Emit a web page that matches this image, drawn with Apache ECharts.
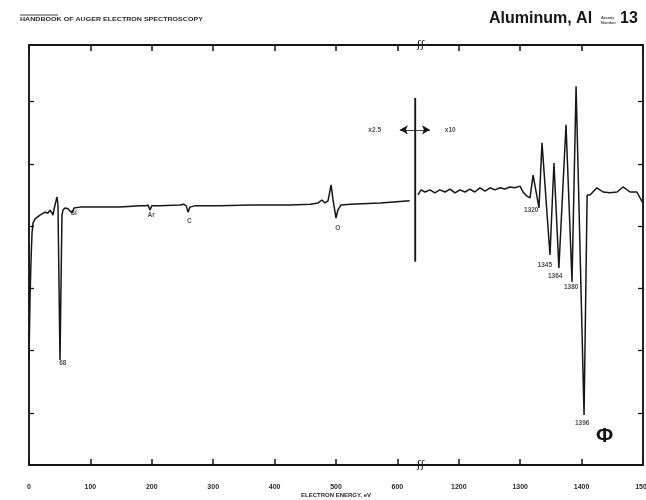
<!DOCTYPE html>
<html><head><meta charset="utf-8">
<script src="https://cdn.jsdelivr.net/npm/echarts@6/dist/echarts.min.js"></script>
<style>html,body{margin:0;padding:0;background:#fff}#c{width:646px;height:500px}</style>
</head><body><div id="c"></div>
<script>
// ---- axis break: energies between BREAK_AT and BREAK_AT+BREAK_SKIP are cut out
const BREAK_AT = 630;
const BREAK_SKIP = 500;
const xTickLabels = ['0','100','200','300','400','500','600','1200','1300','1400','1500'];
const yTickValues = [12.4, 27.3, 42.1, 56.9, 71.7, 86.7];

// ---- spectrum, low-energy part (x2.5)
const lowEnergy = [0,1.6,3.3,4.9,6.5,9.8,13,17.9,26,31,34.2,37.5,39,42.3,45.6,47.2,50.5,53.7,55.4,58.6,63.5,66.8,70,73.3,83,115.6,148,181,190.6,194,197,200,213,246,252,256,259,262,270,311,360,425,458,471,477,482,487,492,495,500,503,508,523,572,620];
const lowSignal = [25.0,39.3,48.8,55.2,57.6,58.6,59.0,59.5,60.2,60.0,60.7,60.0,59.5,61.9,63.8,61.9,25.0,59.5,60.7,61.2,61.0,60.5,60.0,61.2,61.4,61.4,61.4,61.7,61.7,61.9,60.7,61.7,61.7,61.9,62.1,61.7,60.2,61.4,61.7,61.7,61.9,61.9,62.1,62.4,63.1,62.4,62.9,66.7,63.3,58.8,60.7,61.9,62.1,62.4,62.9];

// ---- spectrum, high-energy part (x10)
const highEnergy = [1133.6,1138.4,1145,1153,1161,1169,1177.5,1185.7,1193.8,1202,1210,1218,1226,1234.5,1242.7,1250.8,1259,1267,1275,1283,1291.5,1299.7,1304.6,1311,1316,1321,1330.6,1335.5,1348.5,1355,1363,1374.6,1384.4,1391,1404,1409,1413.7,1425,1435,1446,1457.7,1467.4,1479,1490,1499];
const highSignal = [64.3,65.5,65.0,65.5,64.8,65.5,65.0,65.7,64.8,65.5,65.0,65.7,65.0,66.0,65.2,66.0,65.5,66.0,65.7,66.2,66.0,66.4,65.0,64.0,63.6,69.0,61.2,76.7,50.0,71.9,46.9,81.0,43.6,90.2,11.9,64.3,64.3,66.0,65.0,64.8,65.0,66.2,65.0,65.0,62.6];

// ---- gain-change marker
const gainLineEnergy = 629;
const gainLineSignal = [87.4, 48.4];
const gainArrowEnergy = [604, 1153];
const gainArrowSignal = 79.8;
const gainLabels = ['x2.5', 'x10'];
const gainLabelEnergy = [563, 1186];

// ---- peak labels
const peakLabels = ['Si','68','Ar','C','O','1320','1345','1364','1380','1396'];
const peakLabelEnergy = [73,55,199,261,503,1318,1340,1357,1383,1401];
const peakLabelSignal = [60.0,24.3,59.5,58.0,56.4,60.7,47.6,45.0,42.4,10.0];

function toAxis(e){ return e >= BREAK_AT + BREAK_SKIP ? e - BREAK_SKIP : e; }
function fromAxis(v){ return v > 600 ? v + BREAK_SKIP : v; }
function pairs(es, ys){ return es.map((e,i)=>[toAxis(e), ys[i]]); }

const chart = echarts.init(document.getElementById('c'));
const FONT = 'Liberation Sans';
const lineCol = '#161616';

const xAxisBase = {
  type:'value', min:0, max:1000, interval:100,
  axisLine:{show:true, onZero:false, lineStyle:{color:lineCol, width:1.9}},
  axisTick:{show:true, inside:true, length:6, lineStyle:{color:lineCol, width:1.5}},
  splitLine:{show:false}
};
const yAxisBase = {
  type:'value', min:0, max:100,
  axisLine:{show:true, onZero:false, lineStyle:{color:lineCol, width:1.9}},
  axisTick:{show:true, inside:true, length:5, customValues:yTickValues, lineStyle:{color:lineCol, width:1.3}},
  axisLabel:{show:false, customValues:yTickValues},
  splitLine:{show:false}
};

const labelData = peakLabels.map((t,i)=>({name:t, value:[toAxis(peakLabelEnergy[i]), peakLabelSignal[i]]}))
  .concat(gainLabels.map((t,i)=>({name:t, value:[toAxis(gainLabelEnergy[i]), gainArrowSignal]})));

const option = {
  animation:false,
  backgroundColor:'#fff',
  grid:{left:29, right:3, top:45, bottom:35, containLabel:false, outerBoundsMode:'none'},
  xAxis:[
    Object.assign({}, xAxisBase, {position:'bottom',
      axisLabel:{show:true, margin:19, fontSize:7, fontWeight:'bold', fontFamily:FONT, color:'#2a2a2a',
        formatter:(v)=>xTickLabels[Math.round(v/100)] || String(fromAxis(v))},
      name:'ELECTRON ENERGY, eV', nameLocation:'middle', nameGap:27, nameMoveOverlap:false,
      nameTextStyle:{fontSize:6, fontWeight:'bold', fontFamily:FONT, color:'#2a2a2a'}}),
    Object.assign({}, xAxisBase, {position:'top', axisLabel:{show:false}})
  ],
  yAxis:[
    Object.assign({}, yAxisBase, {position:'left'}),
    Object.assign({}, yAxisBase, {position:'right'})
  ],
  series:[
    {type:'line', data:pairs(lowEnergy, lowSignal), showSymbol:false, smooth:false,
     lineStyle:{color:lineCol, width:1.5}},
    {type:'line', data:pairs(highEnergy, highSignal), showSymbol:false, smooth:false,
     lineStyle:{color:lineCol, width:1.5}},
    {type:'line', data:gainLineSignal.map(y=>[toAxis(gainLineEnergy), y]), showSymbol:false,
     lineStyle:{color:lineCol, width:1.9},
     markLine:{silent:true, symbol:['arrow','arrow'], symbolSize:[7,8], label:{show:false},
       lineStyle:{color:lineCol, width:0.8, type:'solid'},
       data:[[{coord:[toAxis(gainArrowEnergy[0]), gainArrowSignal]}, {coord:[toAxis(gainArrowEnergy[1]), gainArrowSignal]}]]}},
    {type:'scatter', data:labelData, symbolSize:0, silent:true,
     label:{show:true, position:'inside', formatter:(p)=>p.name, fontSize:6.5, fontWeight:'bold',
       fontFamily:FONT, color:'#1e1e1e'}}
  ],
  graphic:[
    {type:'line', shape:{x1:20,y1:15,x2:58,y2:15}, style:{stroke:'#444', lineWidth:1}},
    {type:'text', x:20, y:17, scaleX:1.18, scaleY:0.9, style:{text:'HANDBOOK OF AUGER ELECTRON SPECTROSCOPY', fontSize:6, fontWeight:'bold', fontFamily:FONT, fill:'#2a2a2a'}},
    {type:'text', left:489, top:11, style:{text:'Aluminum, Al', fontSize:16, fontWeight:'bold', fontFamily:FONT, fill:'#161616'}},
    {type:'text', left:601, top:15, style:{text:'Atomic\nNumber', fontSize:4, lineHeight:5, fontWeight:'bold', fontFamily:FONT, fill:'#444'}},
    {type:'text', left:620, top:11, style:{text:'13', fontSize:16, fontWeight:'bold', fontFamily:FONT, fill:'#161616'}},
    {type:'text', left:596, top:426, style:{text:'Φ', fontSize:21, fontWeight:'bold', fontFamily:FONT, fill:'#161616'}}
  ]
};
chart.setOption(option);

// break marks on top and bottom axes
const bx = chart.convertToPixel({xAxisIndex:0}, BREAK_AT + 8);
const yTop = 45, yBot = 465;
chart.setOption({graphic: option.graphic.concat([
  {type:'rect', shape:{x:bx-6, y:yTop-3, width:12, height:6}, style:{fill:'#fff'}},
  {type:'text', x:bx, y:yTop, style:{text:'ʃʃ', fontSize:11, fontFamily:'DejaVu Sans', fill:'#161616', align:'center', verticalAlign:'middle'}},
  {type:'rect', shape:{x:bx-6, y:yBot-3, width:12, height:6}, style:{fill:'#fff'}},
  {type:'text', x:bx, y:yBot, style:{text:'ʃʃ', fontSize:11, fontFamily:'DejaVu Sans', fill:'#161616', align:'center', verticalAlign:'middle'}}
])});
</script></body></html>
